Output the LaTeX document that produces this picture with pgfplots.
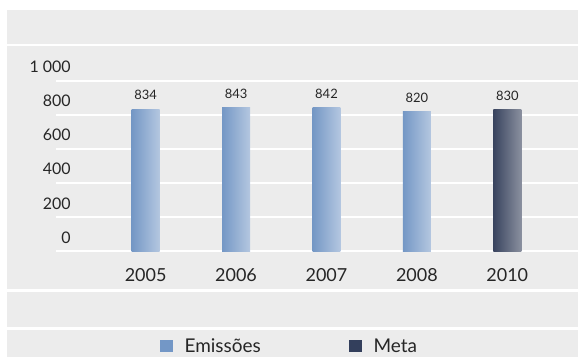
\documentclass[border=0pt]{standalone}
\usepackage{pgfplots}
\pgfplotsset{compat=1.18}
\usepackage{fontspec}
\setmainfont{Lato}
\definecolor{bg}{HTML}{ECECEC}
\definecolor{eL}{HTML}{7497C5}
\definecolor{eR}{HTML}{B4C7E0}
\definecolor{mL}{HTML}{39445F}
\definecolor{mR}{HTML}{8A909F}
\definecolor{eleg}{HTML}{7397C6}
\definecolor{mleg}{HTML}{333F5C}
\definecolor{txt}{HTML}{262626}
\begin{document}
\begin{tikzpicture}[x=1pt,y=1pt]
\path (0,0) rectangle (579,358);
\fill[bg] (7,0) rectangle (579,348);
\draw[white,line width=2.5pt] (7,313) -- (579,313);
\draw[white,line width=2.5pt] (7,67) -- (579,67);
\draw[white,line width=2.5pt] (7,29) -- (579,29);
\begin{axis}[
  at={(56pt,106pt)}, anchor=south west,
  scale only axis, width=523pt, height=171pt,
  xmin=-0.993, xmax=4.779, ymin=0, ymax=1000,
  axis line style={draw=none},
  ymajorgrids, grid style={white,line width=2pt},
  major tick length=0pt,
  /pgf/number format/assume math mode=true,
  xtick={0,1,2,3,4}, xticklabels={2005,2006,2007,2008,2010},
  ytick={0,200,400,600,800,1000}, yticklabels={0,200,400,600,800,1 000},
  xticklabel style={anchor=center, inner sep=0pt, yshift=-24pt, font=\fontsize{18}{20}\selectfont, text=txt},
  yticklabel style={anchor=east, inner sep=0pt, xshift=15pt, yshift=14pt, font=\fontsize{16}{18}\selectfont, text=txt},
  ybar, bar width=28pt, bar shift=0pt,
  nodes near coords,
  nodes near coords style={anchor=south, inner sep=0pt, yshift=9pt, font=\fontsize{13}{15}\selectfont, text=txt},
  clip=false,
  legend style={at={(233pt,-95pt)}, anchor=center, draw=none, fill=none, legend columns=2,
    font=\fontsize{19}{21}\selectfont, text=txt,
    nodes={inner xsep=0pt},
    /tikz/every even column/.append style={column sep=88pt}},
  legend cell align=left,
]
\addplot[draw=none, left color=eL, right color=eR, forget plot] coordinates {(0,834)};
\addplot[draw=none, left color=eL, right color=eR, forget plot] coordinates {(1,843)};
\addplot[draw=none, left color=eL, right color=eR, forget plot] coordinates {(2,842)};
\addplot[draw=none, left color=eL, right color=eR, forget plot] coordinates {(3,820)};
\addplot[draw=none, left color=mL, right color=mR, forget plot] coordinates {(4,830)};
\addlegendimage{legend image code/.code={\fill[eleg,draw=none] (0pt,-6pt) rectangle (13pt,6pt); \path[draw=none,fill=none] (0pt,0pt) -- (25pt,0pt);}}
\addlegendentry{Emissões}
\addlegendimage{legend image code/.code={\fill[mleg,draw=none] (0pt,-6pt) rectangle (13pt,6pt); \path[draw=none,fill=none] (0pt,0pt) -- (25pt,0pt);}}
\addlegendentry{Meta}
\end{axis}
\end{tikzpicture}
\end{document}
